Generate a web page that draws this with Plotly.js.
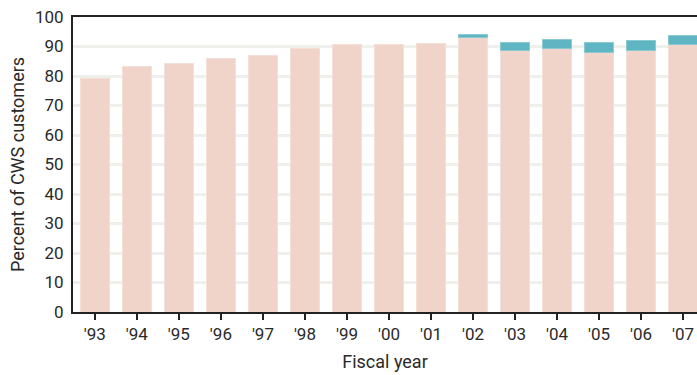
<!DOCTYPE html>
<html>
<head>
<meta charset="utf-8">
<script src="https://cdn.plot.ly/plotly-3.0.1.min.js"></script>
<style>html,body{margin:0;padding:0;background:#fff;}#chart{width:697px;height:375px;}</style>
</head>
<body>
<div id="chart"></div>
<script>
const years = ["'93","'94","'95","'96","'97","'98","'99","'00","'01","'02","'03","'04","'05","'06","'07"];
const baseValues = [79.0, 83.2, 84.1, 85.8, 86.8, 89.2, 90.8, 90.8, 91.1, 92.9, 88.8, 89.3, 87.8, 88.7, 90.8];
const extraValues = [null, null, null, null, null, null, null, null, null, 1.0, 2.4, 3.1, 3.4, 3.2, 3.1];
const yTicks = [0,10,20,30,40,50,60,70,80,90,100];

const FONT = "Roboto, 'Liberation Sans Narrow', sans-serif";

const traces = [
  {type:'bar', x: years, y: baseValues, marker:{color:'#f0d4c9', line:{color:'#f5e0d8', width:1}}, hoverinfo:'none'},
  {type:'bar', x: years, y: extraValues, marker:{color:'#5fb5c1', line:{color:'#8ccad3', width:1}}, hoverinfo:'none'}
];

const layout = {
  width: 697, height: 375,
  margin: {l:73, r:0, t:17, b:63},
  barmode: 'stack',
  bargap: 0.31,
  showlegend: false,
  paper_bgcolor: '#fff', plot_bgcolor: '#fff',
  font: {family: FONT, size: 16, color: '#2a2a2a'},
  xaxis: {
    type: 'category',
    range: [-0.52, 14.33],
    showline: true, linecolor: '#222', linewidth: 2, mirror: true,
    ticks: 'outside', ticklen: 6, tickwidth: 2, tickcolor: '#222',
    showgrid: false,
    tickfont: {family: FONT, size: 17, color: '#2a2a2a'},
    title: {text: 'Fiscal year', font: {family: FONT, size: 18, color: '#2a2a2a'}, standoff: 12}
  },
  yaxis: {
    range: [0, 100],
    tickvals: yTicks,
    showline: true, linecolor: '#222', linewidth: 2,
    ticks: '',
    showgrid: true, gridcolor: '#efefec', gridwidth: 3,
    zeroline: false,
    tickfont: {family: FONT, size: 17, color: '#2a2a2a'},
    ticklabelstandoff: 4,
    title: {text: 'Percent of CWS customers', font: {family: FONT, size: 18, color: '#2a2a2a'}, standoff: 6}
  }
};

Plotly.newPlot('chart', traces, layout, {displayModeBar: false, staticPlot: true});
</script>
</body>
</html>
